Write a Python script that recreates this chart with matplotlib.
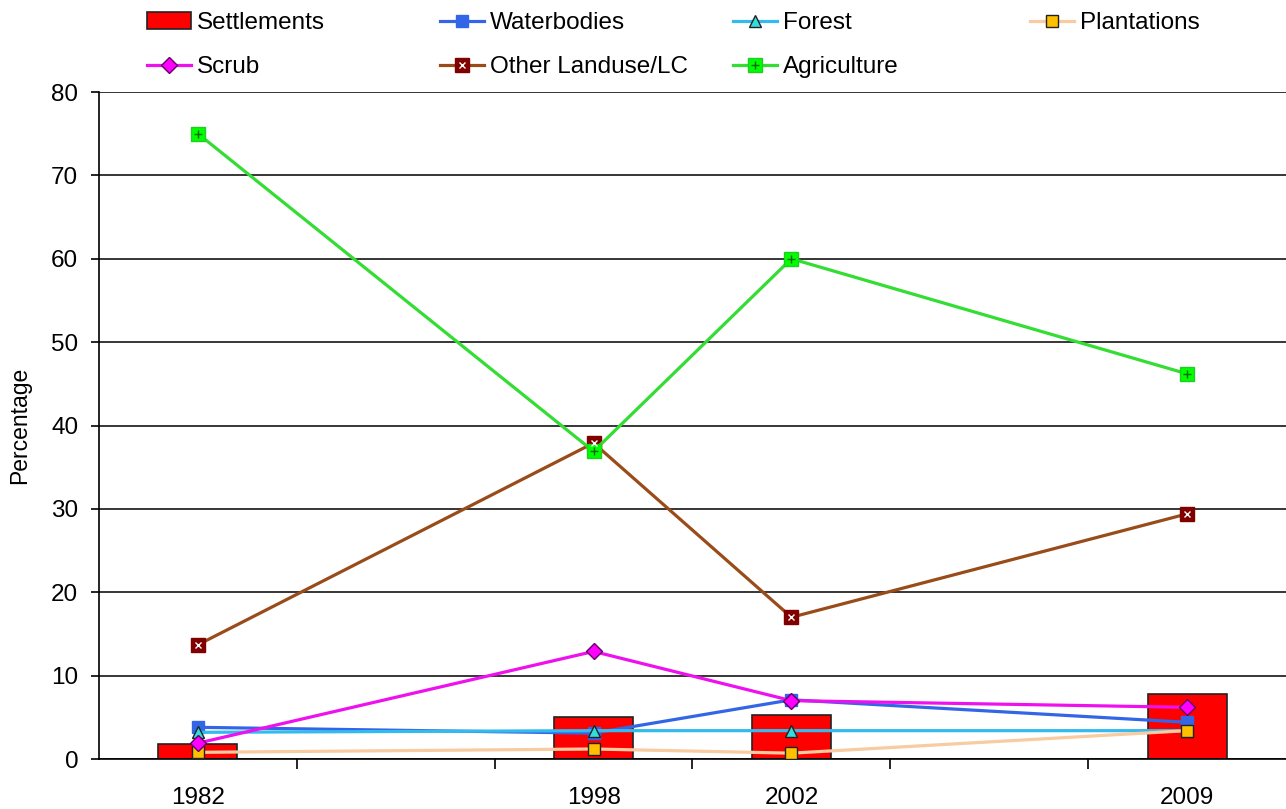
import matplotlib.pyplot as plt
from matplotlib.lines import Line2D
from matplotlib.patches import Patch

plt.rcParams['font.family'] = ['Liberation Sans', 'DejaVu Sans']

# category slots on the x axis (blank slots have no label and no data)
slots = ['1982', '', '1998', '2002', '', '2009']
years_pos = [0, 2, 3, 5]

settlements = [1.8, 5.0, 5.3, 7.8]
waterbodies = [3.8, 3.1, 7.1, 4.4]
forest = [3.2, 3.4, 3.4, 3.4]
plantations = [0.8, 1.2, 0.7, 3.4]
scrub = [1.9, 12.9, 7.0, 6.2]
other_lc = [13.7, 37.9, 17.0, 29.4]
agriculture = [75.0, 36.9, 60.0, 46.2]

fig = plt.figure(figsize=(12.86, 8.09), dpi=100)
ax = fig.add_axes([99/1286, 1 - 759/809, 1 - 99/1286, (759 - 92)/809])

ax.bar(years_pos, settlements, width=0.4, color='#FF0000', edgecolor='#222222',
       linewidth=1.2, zorder=2)

lw = 2.3
ms = 9
l_water, = ax.plot(years_pos, waterbodies, color='#3366E6', lw=lw, marker='s',
                   ms=ms, mfc='#3366E6', mec='#3366E6', zorder=3)
l_forest, = ax.plot(years_pos, forest, color='#33BBEE', lw=lw, marker='^',
                    ms=ms, mfc='#33DDDD', mec='#222222', mew=1, zorder=3)
l_plant, = ax.plot(years_pos, plantations, color='#F8CBA0', lw=lw, marker='s',
                   ms=ms, mfc='#FFC000', mec='#222222', mew=1, zorder=3)
l_scrub, = ax.plot(years_pos, scrub, color='#EE11EE', lw=lw, marker='D',
                   ms=ms - 1, mfc='#FF00FF', mec='#660066', mew=1, zorder=3)
l_other, = ax.plot(years_pos, other_lc, color='#994C1A', lw=lw, marker='s',
                   ms=ms + 1, mfc='#800000', mec='#800000', zorder=3)
o_other, = ax.plot(years_pos, other_lc, ls='none', marker='x', ms=5,
                   mec='white', mew=1, zorder=4)
l_agri, = ax.plot(years_pos, agriculture, color='#33DD33', lw=lw, marker='s',
                  ms=ms + 1, mfc='#00FF00', mec='#22CC22', zorder=3)
o_agri, = ax.plot(years_pos, agriculture, ls='none', marker='+', ms=6,
                  mec='#116611', mew=1, zorder=4)

ax.set_xlim(-0.5, 5.5)
ax.set_ylim(0, 80)
ax.set_yticks(range(0, 81, 10))
ax.yaxis.grid(True, color='black', linewidth=1.1)
ax.set_axisbelow(True)
ax.set_xticks(range(len(slots)))
ax.set_xticklabels(slots)
ax.set_xticks([0.5, 1.5, 2.5, 3.5, 4.5], minor=True)
ax.tick_params(axis='x', which='major', length=0, pad=20, labelsize=17.5)
ax.tick_params(axis='x', which='minor', length=7, width=1.2, direction='out')
ax.tick_params(axis='y', length=6, width=1.2, pad=9, labelsize=17.5)
for s in ['top', 'right']:
    ax.spines[s].set_visible(False)
for s in ['left', 'bottom']:
    ax.spines[s].set_linewidth(1.2)
ax.set_ylabel('Percentage', fontsize=16.5, labelpad=14)

p_sett = Patch(facecolor='#FF0000', edgecolor='#222222', linewidth=1.2)
columns = [
    ([p_sett, l_scrub], ['Settlements', 'Scrub'], 147),
    ([l_water, (l_other, o_other)], ['Waterbodies', 'Other Landuse/LC'], 440),
    ([l_forest, (l_agri, o_agri)], ['Forest', 'Agriculture'], 733),
    ([l_plant], ['Plantations'], 1030),
]
for handles, labels, xpix in columns:
    fig.legend(handles, labels, loc='upper left',
               bbox_to_anchor=(xpix / 1286, 1 - 12 / 809), frameon=False,
               fontsize=17.5, handlelength=1.8, handletextpad=0.25,
               labelspacing=0.92, borderpad=0, borderaxespad=0)

fig.savefig('out.png', dpi=100)
